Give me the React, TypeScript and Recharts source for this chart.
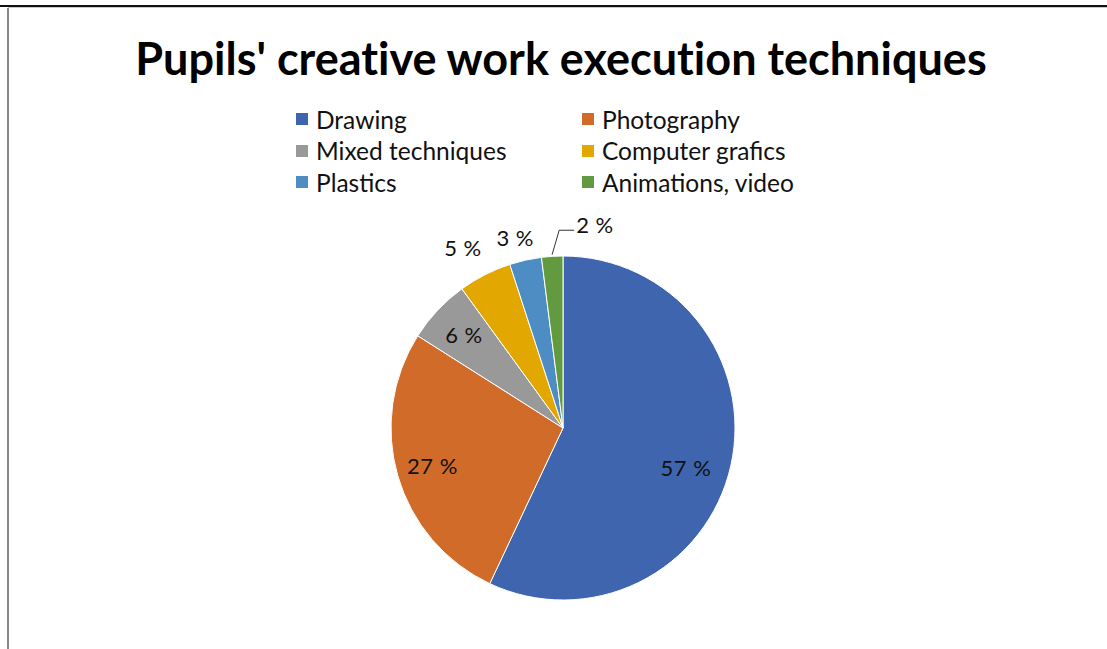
import React from "react";
import { PieChart, Pie, Cell, Legend } from "recharts";

const categories = [
  "Drawing",
  "Photography",
  "Mixed techniques",
  "Computer grafics",
  "Plastics",
  "Animations, video",
];
const values = [57, 27, 6, 5, 3, 2];
const labels = ["57 %", "27 %", "6 %", "5 %", "3 %", "2 %"];
const colors = ["#3E65AE", "#D06B2A", "#999999", "#E2A700", "#4E8CC4", "#629B3F"];

const data = categories.map((name, i) => ({ name, value: values[i] }));

// label placement style: radius factor and angle offset per slice
const labelRadius = [0.75, 0.79, 0.79, 1.2, 1.14, 1.15];
const labelAngleOffset = [-5, 0, 0, 2, 1.5, -2.5];

const RAD = Math.PI / 180;
const FONT = "Lato, 'Open Sans', sans-serif";

const renderLabel = (props: any) => {
  const { cx, cy, midAngle, outerRadius, index } = props;
  const a = (midAngle + labelAngleOffset[index]) * RAD;
  const r = outerRadius * labelRadius[index];
  const x = cx + r * Math.cos(a);
  const y = cy - r * Math.sin(a);
  if (index === 5) {
    const sx = cx + outerRadius * 1.01 * Math.cos(midAngle * RAD);
    const sy = cy - outerRadius * 1.01 * Math.sin(midAngle * RAD);
    return (
      <g>
        <polyline
          points={`${sx},${sy} ${x},${y} ${x + 15},${y}`}
          fill="none"
          stroke="#333"
          strokeWidth={1}
        />
        <text
          x={x + 17}
          y={y - 6}
          fill="#111"
          fontSize={22}
          fontFamily={FONT}
          letterSpacing={0.5}
          dominantBaseline="central"
          textAnchor="start"
        >
          {labels[index]}
        </text>
      </g>
    );
  }
  return (
    <text
      x={x}
      y={y}
      fill="#111"
      fontSize={22}
      fontFamily={FONT}
      letterSpacing={0.5}
      dominantBaseline="central"
      textAnchor="middle"
    >
      {labels[index]}
    </text>
  );
};

const renderLegend = () => {
  return (
    <div style={{ position: "relative", width: 560, height: 100, fontFamily: FONT }}>
      {categories.map((name, i) => {
        const col = i % 2;
        const row = Math.floor(i / 2);
        return (
          <div
            key={name}
            style={{
              position: "absolute",
              left: col * 286,
              top: row * 31.5,
              height: 24,
              display: "flex",
              alignItems: "center",
              whiteSpace: "nowrap",
            }}
          >
            <span
              style={{
                display: "inline-block",
                width: 12,
                height: 12,
                background: colors[i],
                marginRight: 8,
              }}
            />
            <span style={{ fontSize: 24.5, color: "#111" }}>{name}</span>
          </div>
        );
      })}
    </div>
  );
};

export default function App() {
  return (
    <div
      style={{
        position: "absolute",
        left: 0,
        top: 0,
        width: 1107,
        height: 649,
        background: "#fff",
        overflow: "hidden",
      }}
    >
      <div style={{ position: "absolute", left: 0, top: 5, width: 1107, height: 2, background: "#111" }} />
      <div style={{ position: "absolute", left: 8, top: 7, width: 1099, height: 1, background: "#c8c8c8" }} />
      <div style={{ position: "absolute", left: 7, top: 8, width: 2, height: 641, background: "#888" }} />
      <div
        style={{
          position: "absolute",
          left: 0,
          top: 31,
          width: 1122,
          textAlign: "center",
          fontFamily: FONT,
          fontWeight: 700,
          fontSize: 45,
          color: "#000",
          whiteSpace: "nowrap",
          letterSpacing: 0,
          fontVariantLigatures: "none",
        }}
      >
        Pupils' creative work execution techniques
      </div>
      <PieChart width={1107} height={649} margin={{ top: 0, right: 0, bottom: 0, left: 0 }}>
        <Legend
          content={renderLegend}
          wrapperStyle={{ position: "absolute", left: 296, top: 107, width: 560 }}
        />
        <Pie
          data={data}
          dataKey="value"
          nameKey="name"
          cx={563}
          cy={428}
          outerRadius={172}
          startAngle={90}
          endAngle={-270}
          stroke="#fff"
          strokeWidth={1}
          label={renderLabel}
          labelLine={false}
          isAnimationActive={false}
        >
          {data.map((d, i) => (
            <Cell key={d.name} fill={colors[i]} />
          ))}
        </Pie>
      </PieChart>
    </div>
  );
}
